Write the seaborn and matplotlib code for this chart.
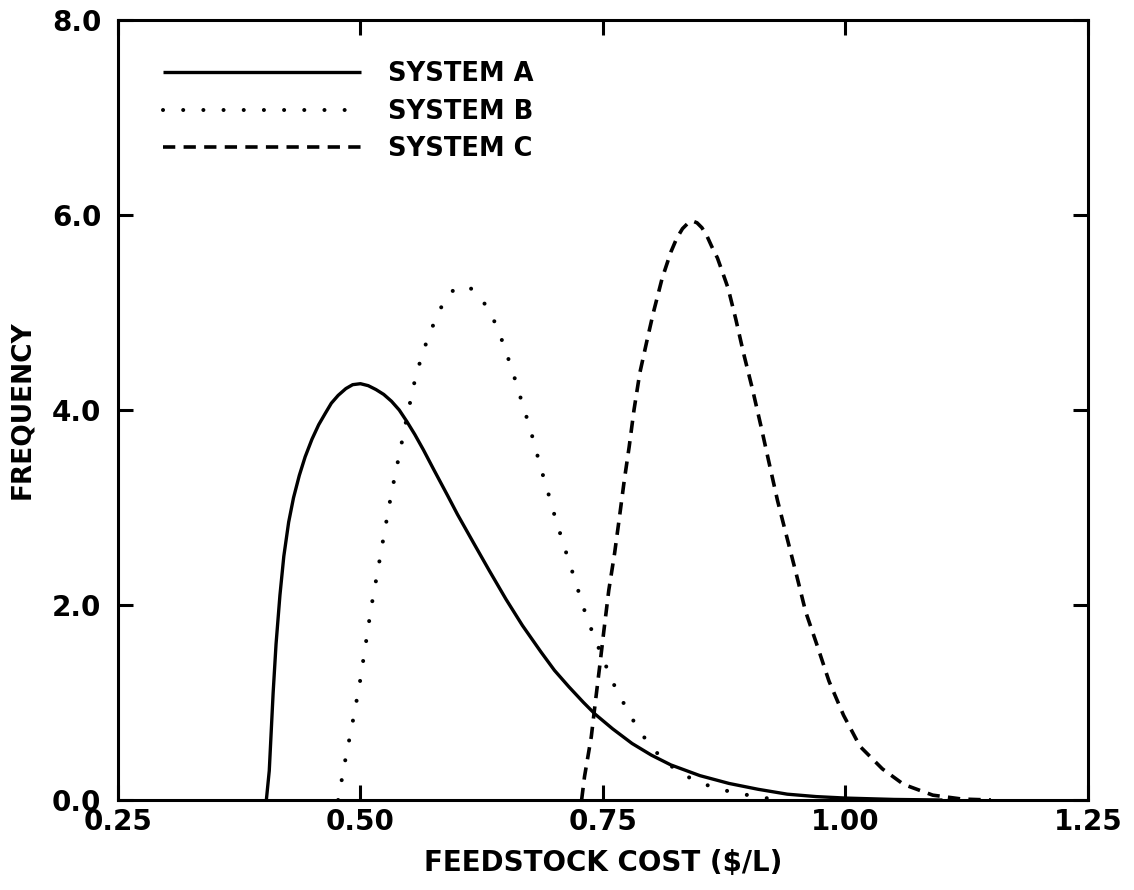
import matplotlib
matplotlib.use("Agg")
import matplotlib.pyplot as plt
import seaborn as sns
import pandas as pd

# Frequency distributions of feedstock cost for three systems
cost_a = [0.403, 0.406, 0.408, 0.410, 0.413, 0.417, 0.421, 0.426, 0.431, 0.437,
          0.443, 0.450, 0.457, 0.464, 0.470, 0.477, 0.485, 0.492, 0.500, 0.508,
          0.516, 0.524, 0.532, 0.540, 0.548, 0.556, 0.565, 0.575, 0.590, 0.600,
          0.617, 0.633, 0.650, 0.667, 0.686, 0.700, 0.715, 0.730, 0.742, 0.760,
          0.780, 0.800, 0.820, 0.850, 0.880, 0.910, 0.940, 0.970, 1.000, 1.050,
          1.100]
freq_a = [0.00, 0.30, 0.70, 1.10, 1.60, 2.10, 2.50, 2.85, 3.10, 3.33,
          3.52, 3.70, 3.85, 3.97, 4.07, 4.15, 4.22, 4.26, 4.27, 4.25,
          4.21, 4.16, 4.09, 4.00, 3.88, 3.75, 3.59, 3.40, 3.12, 2.93,
          2.63, 2.35, 2.06, 1.79, 1.52, 1.33, 1.16, 1.00, 0.88, 0.73,
          0.58, 0.46, 0.36, 0.25, 0.17, 0.11, 0.06, 0.035, 0.02, 0.006,
          0.00]

cost_b = [0.477, 0.484, 0.492, 0.499, 0.505, 0.511, 0.518, 0.525, 0.532, 0.540,
          0.548, 0.556, 0.563, 0.570, 0.577, 0.585, 0.591, 0.597, 0.602, 0.607,
          0.612, 0.616, 0.622, 0.628, 0.638, 0.645, 0.652, 0.658, 0.664, 0.670,
          0.676, 0.681, 0.686, 0.692, 0.697, 0.703, 0.709, 0.715, 0.721, 0.727,
          0.733, 0.740, 0.748, 0.755, 0.762, 0.771, 0.781, 0.792, 0.805, 0.820,
          0.837, 0.855, 0.875, 0.894, 0.912, 0.930]
freq_b = [0.00, 0.39, 0.80, 1.18, 1.57, 1.97, 2.36, 2.76, 3.15, 3.54,
          3.93, 4.30, 4.55, 4.75, 4.92, 5.09, 5.18, 5.24, 5.26, 5.27,
          5.26, 5.23, 5.17, 5.09, 4.91, 4.74, 4.54, 4.36, 4.16, 3.97,
          3.77, 3.59, 3.40, 3.21, 3.02, 2.83, 2.63, 2.45, 2.26, 2.07,
          1.88, 1.70, 1.50, 1.33, 1.17, 1.00, 0.82, 0.65, 0.49, 0.35,
          0.24, 0.16, 0.10, 0.06, 0.03, 0.00]

cost_c = [0.728, 0.731, 0.738, 0.742, 0.747, 0.751, 0.756, 0.762, 0.767, 0.772,
          0.777, 0.782, 0.788, 0.796, 0.802, 0.811, 0.820, 0.826, 0.832, 0.837,
          0.842, 0.847, 0.852, 0.857, 0.862, 0.868, 0.873, 0.879, 0.887, 0.895,
          0.904, 0.913, 0.921, 0.930, 0.940, 0.949, 0.959, 0.971, 0.983, 0.998,
          1.015, 1.038, 1.060, 1.090, 1.120, 1.150]
freq_c = [0.00, 0.24, 0.65, 0.99, 1.40, 1.74, 2.15, 2.53, 2.90, 3.28,
          3.62, 4.00, 4.38, 4.74, 5.00, 5.35, 5.62, 5.76, 5.86, 5.91,
          5.94, 5.92, 5.87, 5.79, 5.68, 5.56, 5.42, 5.25, 4.93, 4.58,
          4.22, 3.83, 3.47, 3.07, 2.68, 2.33, 1.93, 1.58, 1.22, 0.87,
          0.55, 0.32, 0.16, 0.05, 0.01, 0.00]

series_names = ["SYSTEM A", "SYSTEM B", "SYSTEM C"]
x_ticks = [0.25, 0.50, 0.75, 1.00, 1.25]
x_tick_labels = ["0.25", "0.50", "0.75", "1.00", "1.25"]
y_ticks = [0.0, 2.0, 4.0, 6.0, 8.0]
y_tick_labels = ["0.0", "2.0", "4.0", "6.0", "8.0"]

sns.set_theme(style="ticks")
plt.rcParams["font.family"] = ["DejaVu Sans"]
plt.rcParams["font.weight"] = "bold"
plt.rcParams["text.color"] = "black"
plt.rcParams["axes.labelcolor"] = "black"
plt.rcParams["xtick.color"] = "black"
plt.rcParams["ytick.color"] = "black"
plt.rcParams["xtick.labelcolor"] = "black"
plt.rcParams["ytick.labelcolor"] = "black"

fig = plt.figure(figsize=(11.34, 8.90), dpi=100)
ax = fig.add_axes([0.104, 0.1011, 0.8554, 0.8764])

styles = [
    dict(linestyle="-", solid_capstyle="butt", linewidth=2.4),
    dict(linestyle=(0, (0.01, 5.0)), dash_capstyle="round", linewidth=2.9),
    dict(linestyle=(0, (3.4, 2.3)), dash_capstyle="butt", linewidth=2.6),
]
data = [(cost_a, freq_a), (cost_b, freq_b), (cost_c, freq_c)]

for (xs, ys), name, st in zip(data, series_names, styles):
    df = pd.DataFrame({"cost": xs, "freq": ys})
    sns.lineplot(data=df, x="cost", y="freq", ax=ax, color="black",
                 estimator=None, sort=False, label=name, **st)

ax.set_xlim(0.25, 1.25)
ax.set_ylim(0.0, 8.0)
ax.set_xticks(x_ticks)
ax.set_xticklabels(x_tick_labels)
ax.set_yticks(y_ticks)
ax.set_yticklabels(y_tick_labels)

for sp in ax.spines.values():
    sp.set_visible(True)
    sp.set_linewidth(2.2)
    sp.set_color("black")

ax.tick_params(axis="both", which="major", direction="in", length=11,
               width=2.2, color="black", labelcolor="black", labelsize=20,
               top=True, right=True, labeltop=False, labelright=False)
ax.tick_params(axis="x", pad=6)
ax.tick_params(axis="y", pad=12)
for lab in ax.get_xticklabels() + ax.get_yticklabels():
    lab.set_fontweight("bold")

ax.set_xlabel("FEEDSTOCK COST ($/L)", fontsize=20, fontweight="bold",
              color="black")
ax.set_ylabel("FREQUENCY", fontsize=19, fontweight="bold", color="black")
ax.xaxis.set_label_coords(0.5, -0.063)
ax.yaxis.set_label_coords(-0.085, 0.5)

leg = ax.legend(loc="upper left", bbox_to_anchor=(163 / 1134, 1 - 61 / 890),
                bbox_transform=fig.transFigure, frameon=False,
                handlelength=7.7, handletextpad=1.05, labelspacing=0.45,
                borderpad=0, borderaxespad=0,
                prop=dict(size=18.5, weight="bold"))
for t in leg.get_texts():
    t.set_color("black")

ax.set_facecolor("white")
fig.patch.set_facecolor("white")
fig.savefig("out.png", dpi=100, facecolor="white")
